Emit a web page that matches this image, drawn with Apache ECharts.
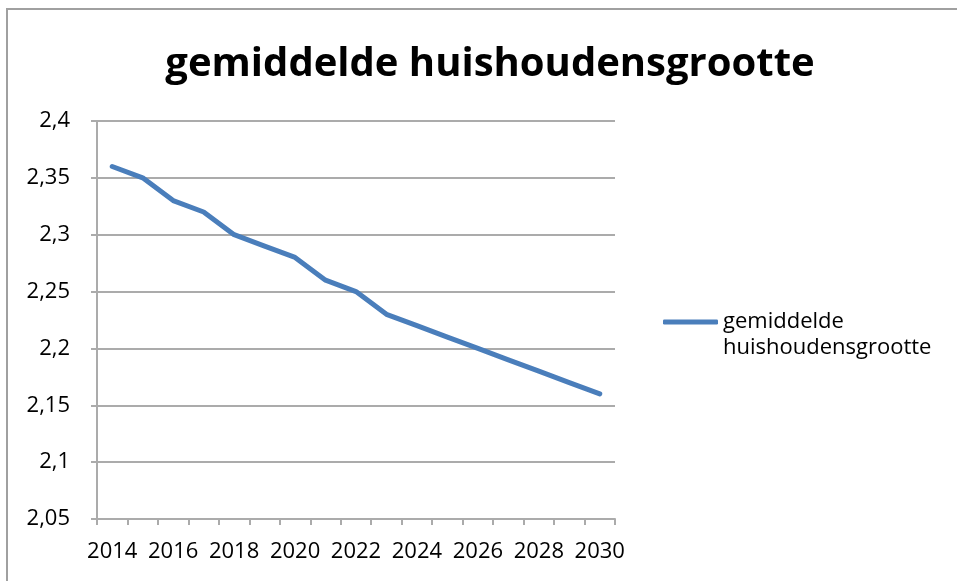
<!DOCTYPE html>
<html>
<head>
<meta charset="utf-8">
<script src="https://cdn.jsdelivr.net/npm/echarts@6/dist/echarts.min.js"></script>
<style>
  html, body { margin: 0; padding: 0; background: #fff; }
  #chart { width: 957px; height: 581px; }
</style>
</head>
<body>
<div id="chart"></div>
<script>
const years = ['2014', '2015', '2016', '2017', '2018', '2019', '2020', '2021', '2022',
  '2023', '2024', '2025', '2026', '2027', '2028', '2029', '2030'];
const huishoudensgrootte = [2.36, 2.35, 2.33, 2.32, 2.30, 2.29, 2.28, 2.26, 2.25,
  2.23, 2.22, 2.21, 2.20, 2.19, 2.18, 2.17, 2.16];
const seriesName = 'gemiddelde huishoudensgrootte';
const yMin = 2.05, yMax = 2.4, yStep = 0.05;

const font = 'Open Sans';
const gridGray = '#ababab';
const chart = echarts.init(document.getElementById('chart'));
chart.setOption({
  animation: false,
  title: {
    text: 'gemiddelde huishoudensgrootte',
    left: 485,
    top: 40,
    textAlign: 'center',
    textStyle: { fontFamily: font, fontSize: 40, fontWeight: 'bold', color: '#000' }
  },
  graphic: [{
    type: 'rect',
    shape: { x: 7, y: 9, width: 960, height: 580 },
    style: { fill: 'none', stroke: '#a0a0a0', lineWidth: 2 },
    silent: true
  }],
  legend: {
    left: 663,
    top: 283,
    padding: 0,
    itemWidth: 55,
    itemHeight: 5,
    itemGap: 0,
    icon: 'roundRect',
    // blank first line keeps the line icon level with the first text line
    formatter: name => ' \n' + name.replace(' ', '\n'),
    textStyle: { fontFamily: font, fontSize: 22, color: '#000', lineHeight: 26 },
    data: [seriesName]
  },
  grid: { left: 97, right: 342, top: 121, bottom: 62 },
  xAxis: {
    type: 'category',
    data: years,
    boundaryGap: true,
    axisLine: { lineStyle: { color: gridGray, width: 2 } },
    axisTick: { show: true, interval: 0, length: 6, lineStyle: { color: gridGray, width: 2 } },
    axisLabel: { interval: 1, color: '#000', fontFamily: font, fontSize: 22, margin: 22 },
    splitLine: { show: false }
  },
  yAxis: {
    type: 'value',
    min: yMin,
    max: yMax,
    interval: yStep,
    axisLine: { show: true, lineStyle: { color: gridGray, width: 2 } },
    axisTick: { show: true, length: 6, lineStyle: { color: gridGray, width: 2 } },
    axisLabel: {
      color: '#000', fontFamily: font, fontSize: 22, margin: 27,
      formatter: v => String(Number(v.toFixed(2))).replace('.', ',')
    },
    splitLine: { lineStyle: { color: gridGray, width: 2 } }
  },
  series: [{
    name: seriesName,
    type: 'line',
    data: huishoudensgrootte,
    showSymbol: false,
    symbol: 'none',
    lineStyle: { color: '#4a7ebb', width: 5, cap: 'round', join: 'round' },
    itemStyle: { color: '#4a7ebb' }
  }]
});
</script>
</body>
</html>
